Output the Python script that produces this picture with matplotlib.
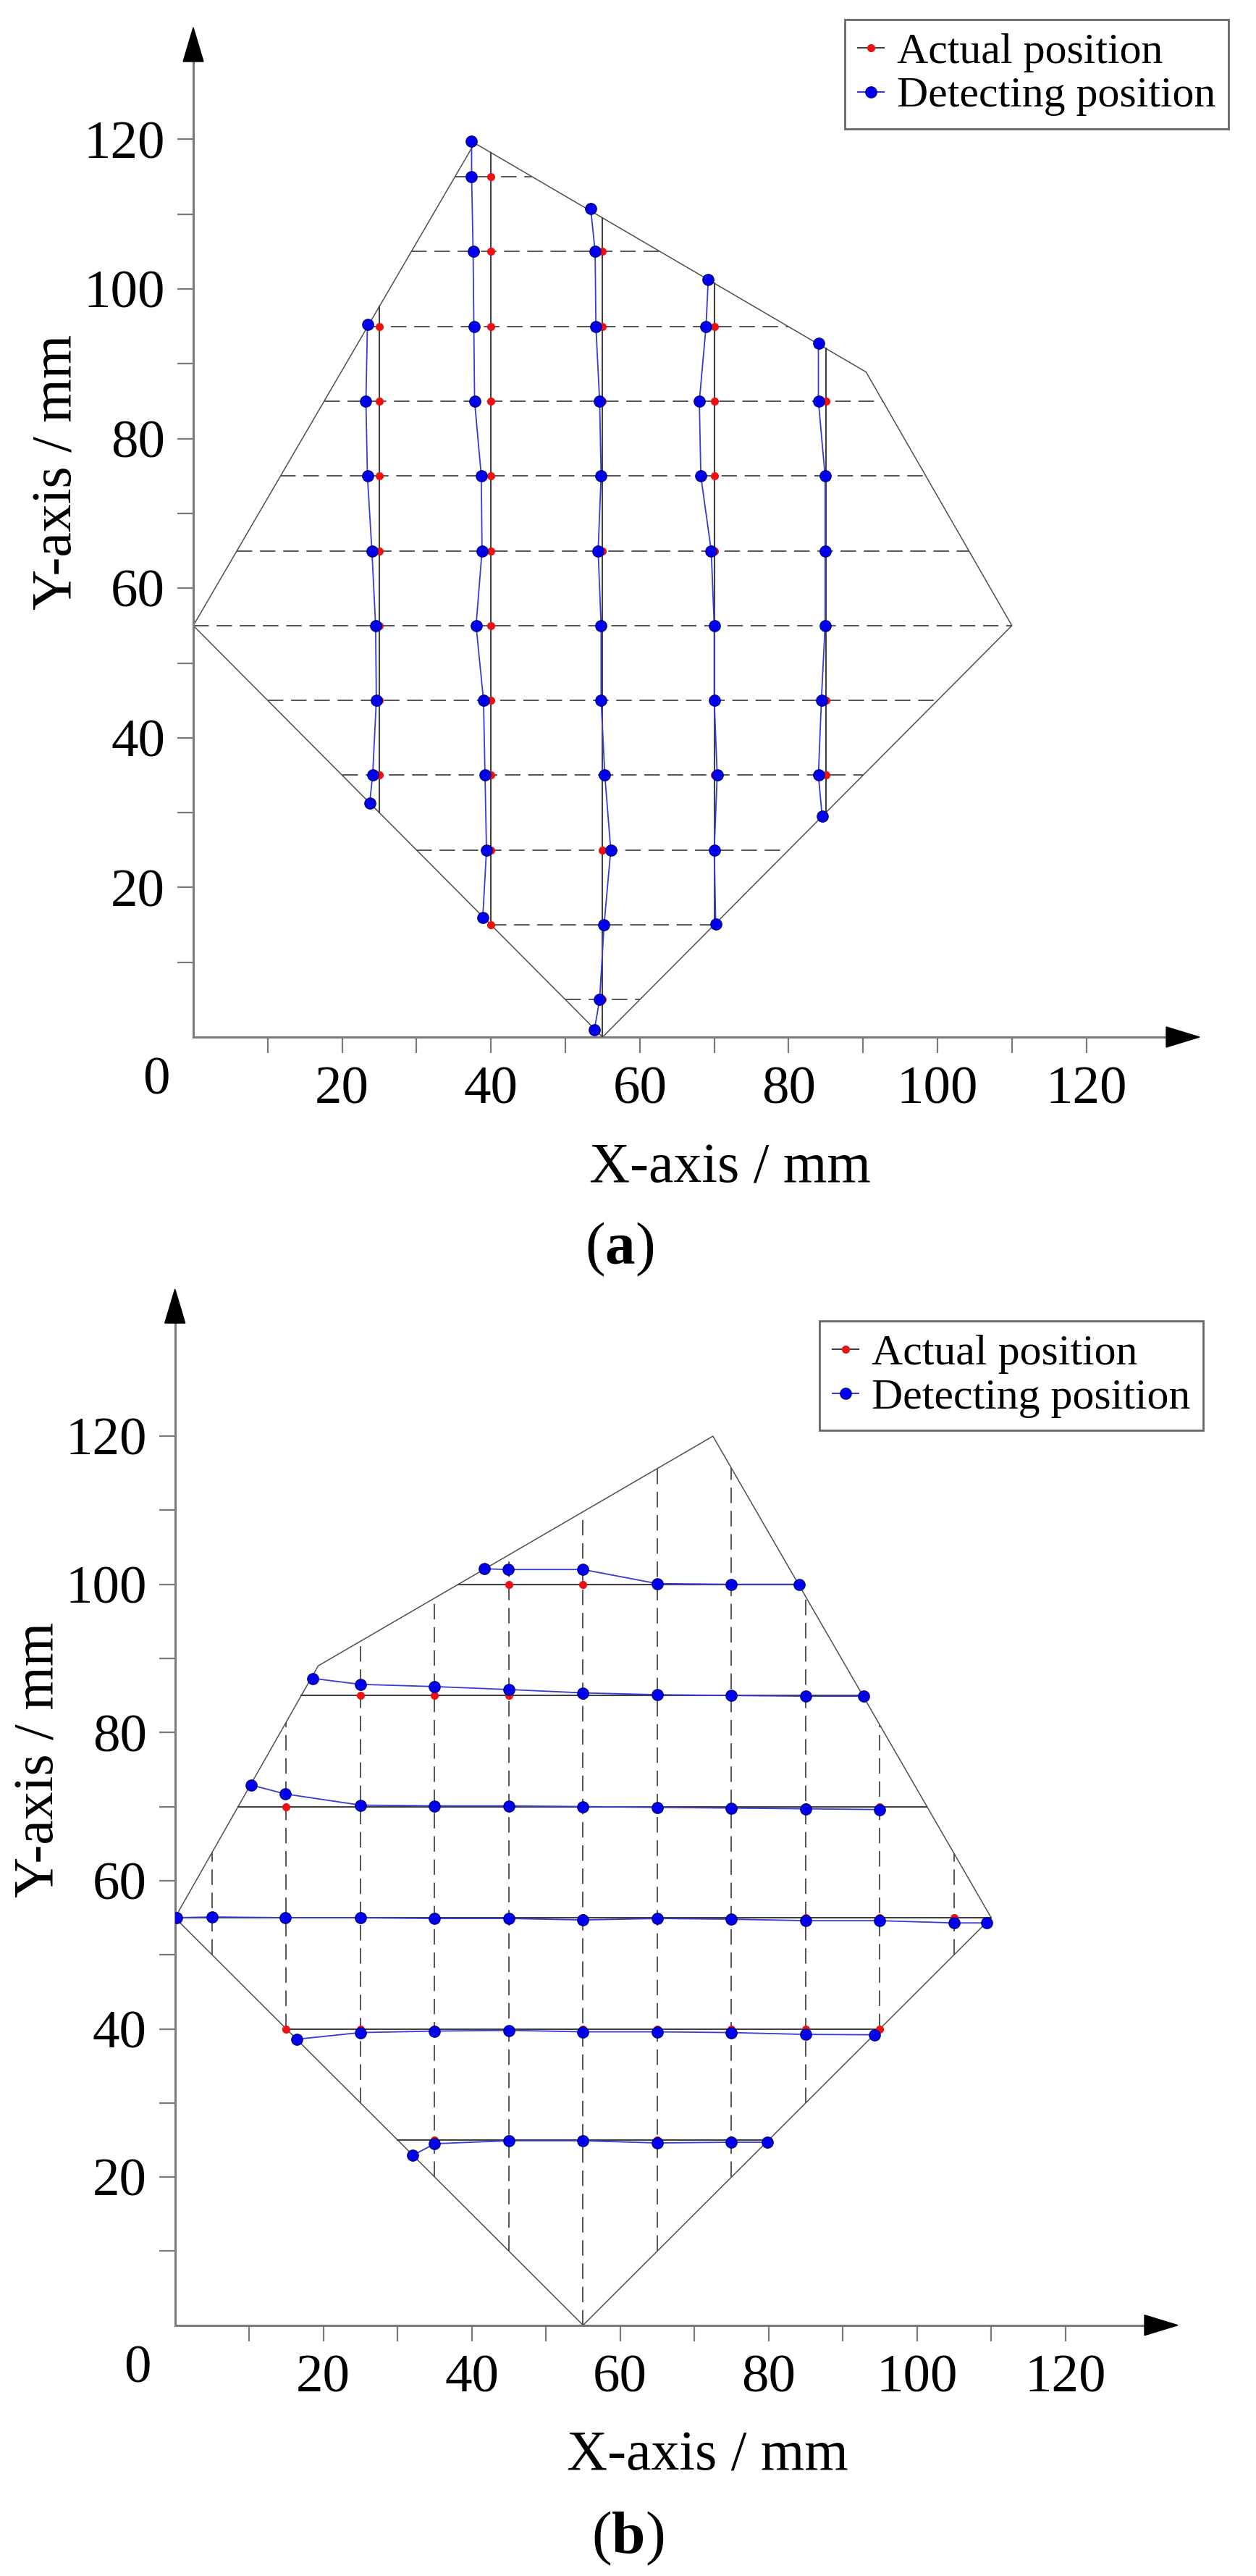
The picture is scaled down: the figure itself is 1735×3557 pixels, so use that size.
import numpy as np
import matplotlib
matplotlib.use("Agg")
import matplotlib.pyplot as plt
from matplotlib.lines import Line2D

plt.rcParams['font.family'] = ['Liberation Serif', 'DejaVu Serif']
plt.rcParams['mathtext.fontset'] = 'custom'
plt.rcParams['mathtext.rm'] = 'Liberation Serif'
plt.rcParams['mathtext.bf'] = 'Liberation Serif:bold'

W, H = 1735, 3557

# ---------------- panel (a) data ----------------
a_poly = [(0, 55), (37.8, 119.5), (90.4, 88.9), (110, 55), (55, 0)]
a_guides = [5, 15, 25, 35, 45, 55, 65, 75, 85, 95, 105, 115]
a_cols = [25, 40, 55, 70, 85]
a_act = [
    [35, 45, 55, 65, 75, 85, 95],
    [15, 25, 35, 45, 55, 65, 75, 85, 95, 105, 115],
    [5, 15, 25, 35, 45, 55, 65, 75, 85, 95, 105],
    [15, 25, 35, 45, 55, 65, 75, 85, 95],
    [35, 45, 55, 65, 75, 85],
]
a_det_x = [
    [23.4, 23.2, 23.4, 24.0, 24.5, 24.6, 24.1, 23.7],
    [37.4, 37.4, 37.6, 37.7, 37.8, 38.7, 38.8, 38.0, 39.0, 39.2, 39.4, 38.9],
    [53.4, 54.0, 54.1, 54.6, 54.8, 54.4, 54.8, 54.8, 55.3, 56.1, 55.2, 54.6, 53.9],
    [69.2, 68.9, 68.0, 68.2, 69.6, 70.0, 70.0, 70.4, 70.0, 70.2],
    [84.0, 84.0, 84.9, 84.9, 84.9, 84.4, 84.0, 84.5],
]
a_det_y = [
    [95.3, 85, 75, 65, 55, 45, 35, 31.3],
    [119.7, 115, 105, 95, 85, 75, 65, 55, 45, 35, 25, 16.0],
    [110.7, 105, 95, 85, 75, 65, 55, 45, 35, 25, 15, 5, 1.0],
    [101.3, 95, 85, 75, 65, 55, 45, 35, 25, 15.1],
    [92.7, 85, 75, 65, 55, 45, 35, 29.5],
]

# ---------------- panel (b) data ----------------
b_poly = [(0, 55), (19.3, 89), (72.5, 120), (110, 55), (55, 0)]
b_guides = [5, 15, 25, 35, 45, 55, 65, 75, 85, 95, 105]
b_rows = [100, 85, 70, 55, 40, 25]
b_act = [
    [45, 55, 65, 75],
    [25, 35, 45, 55, 65, 75, 85],
    [15, 25, 35, 45, 55, 65, 75, 85, 95],
    [5, 15, 25, 35, 45, 55, 65, 75, 85, 95, 105],
    [15, 25, 35, 45, 55, 65, 75, 85, 95],
    [35, 45, 55, 65, 75],
]
b_det_x = [
    [41.7, 44.9, 55.0, 65.0, 75.0, 84.1],
    [18.6, 25.0, 35.0, 45.0, 55.0, 65.0, 75.0, 85.0, 92.8],
    [10.3, 14.9, 25.0, 35.0, 45.0, 55.0, 65.0, 75.0, 85.0, 95.0],
    [0.2, 5.0, 14.9, 25.0, 35.0, 45.0, 55.0, 65.0, 75.0, 85.0, 95.0, 105.0, 109.4],
    [16.4, 25.0, 35.0, 45.0, 55.0, 65.0, 75.0, 85.0, 94.3],
    [32.0, 35.0, 45.0, 55.0, 65.0, 75.0, 79.8],
]
b_det_y = [
    [102.1, 102.0, 102.0, 100.1, 100.0, 100.0],
    [87.3, 86.5, 86.2, 85.8, 85.35, 85.1, 85.0, 84.9, 84.9],
    [72.9, 71.7, 70.2, 70.1, 70.1, 70.0, 69.9, 69.8, 69.7, 69.6],
    [55.0, 55.1, 55.0, 55.0, 54.9, 54.9, 54.7, 54.9, 54.8, 54.6, 54.6, 54.3, 54.3],
    [38.6, 39.5, 39.7, 39.8, 39.6, 39.6, 39.5, 39.25, 39.2],
    [22.9, 24.5, 24.9, 24.9, 24.6, 24.7, 24.7],
]

ticks = [10, 20, 30, 40, 50, 60, 70, 80, 90, 100, 110, 120]
tick_labels = ['', '20', '', '40', '', '60', '', '80', '', '100', '', '120']
legend_labels = ['Actual position', 'Detecting position']

AXIS_C = '#7a7a7a'
POLY_C = '#505050'
DASH_C = '#262626'
ACT_C = '#404040'
RED = '#ee1111'
BLUE = '#0000ee'
BLUE_LINE = '#3a3ad0'


def span(poly, c, axis):
    """where the line (coord[axis] == c) crosses the polygon, min/max of the other coord"""
    pts = poly + [poly[0]]
    hits = []
    for p, q in zip(pts[:-1], pts[1:]):
        a, b = p[axis], q[axis]
        if a != b and (a - c) * (b - c) <= 0:
            t = (c - a) / (b - a)
            hits.append(p[1 - axis] + t * (q[1 - axis] - p[1 - axis]))
    return min(hits), max(hits)


def setup_axes(ox, oy, sx, sy, xtip, ytip):
    # ox, oy: origin in pixels; sx, sy: pixels per mm; xtip/ytip: arrow tips in pixels
    w = xtip - ox
    h = oy - ytip
    ax = fig.add_axes([ox / W, 1 - oy / H, w / W, h / H])
    xmax, ymax = w / sx, h / sy
    ax.set_xlim(0, xmax)
    ax.set_ylim(0, ymax)
    ax.patch.set_alpha(0)
    for s in ['top', 'right']:
        ax.spines[s].set_visible(False)
    hx, hy = 46 / sx, 47 / sy
    ax.spines['bottom'].set_bounds(0, xmax - hx)
    ax.spines['left'].set_bounds(0, ymax - hy)
    for s in ['bottom', 'left']:
        ax.spines[s].set_color(AXIS_C)
        ax.spines[s].set_linewidth(2.2)
    # arrow heads
    ax.fill([xmax - hx, xmax, xmax - hx], [-14 / sy, 0, 14 / sy], color='black', clip_on=False, zorder=5)
    ax.fill([-14 / sx, 0, 14 / sx], [ymax - hy, ymax, ymax - hy], color='black', clip_on=False, zorder=5)
    ax.set_xticks(ticks)
    ax.set_xticklabels(tick_labels)
    ax.set_yticks(ticks)
    ax.set_yticklabels(tick_labels)
    ax.tick_params(axis='both', direction='out', length=16, width=1.6, color=AXIS_C, labelsize=54)
    ax.tick_params(axis='x', pad=13)
    ax.tick_params(axis='y', pad=12)
    ax.annotate('0', xy=(0, 0), xytext=(-37, -44), textcoords='offset points',
                ha='center', va='center', fontsize=54)
    return ax


def add_legend(ax, left, top):
    h = [Line2D([], [], color=ACT_C, lw=1.5, marker='o', ms=7, mfc=RED, mec=RED),
         Line2D([], [], color=BLUE_LINE, lw=1.5, marker='o', ms=11, mfc=BLUE, mec='#000088')]
    leg = ax.legend(h, legend_labels, loc='upper left', bbox_to_anchor=(left / W, 1 - top / H),
                    bbox_transform=fig.transFigure, fontsize=43, frameon=True, fancybox=False,
                    handlelength=0.6, handletextpad=0.3, borderpad=0.3, labelspacing=0.1,
                    borderaxespad=0)
    leg.get_frame().set_edgecolor('#666666')
    leg.get_frame().set_linewidth(2)
    leg.get_frame().set_alpha(1)


def draw_detected(ax, det_x, det_y):
    for xs, ys in zip(det_x, det_y):
        ax.plot(xs, ys, color=BLUE_LINE, lw=1.3, zorder=5)
        ax.plot(xs, ys, ls='none', marker='o', ms=11, mfc=BLUE, mec='#000088', mew=1, zorder=6)


fig = plt.figure(figsize=(W / 100, H / 100), dpi=100)

# ---------------- (a) ----------------
ax = setup_axes(267, 1432, 10.28, 10.33, 1657, 38)
px, py = zip(*(a_poly + [a_poly[0]]))
ax.plot(px, py, color=POLY_C, lw=1.1, zorder=2)
for g in a_guides:
    x0, x1 = span(a_poly, g, 1)
    ax.plot([x0, x1], [g, g], color=DASH_C, lw=1.1, dashes=(14, 7), zorder=1)
for c, ys in zip(a_cols, a_act):
    y0, y1 = span(a_poly, c, 0)
    ax.plot([c, c], [y0, y1], color=ACT_C, lw=1.5, zorder=3)
    ax.plot([c] * len(ys), ys, ls='none', marker='o', ms=7, mfc=RED, mec=RED, zorder=4)
draw_detected(ax, a_det_x, a_det_y)
add_legend(ax, 1167, 27)
fig.text(80 / W, 1 - 652 / H, 'Y-axis / mm', rotation=90, ha='center', va='center', fontsize=56)
fig.text(1008 / W, 1 - 1632 / H, 'X-axis / mm', ha='center', va='baseline', fontsize=56)
fig.text(856 / W, 1 - 1745 / H, r'($\mathbf{a}$)', ha='center', va='baseline', fontsize=60)

# ---------------- (b) ----------------
ax = setup_axes(241.7, 3210.7, 10.25, 10.23, 1627, 1780)
px, py = zip(*(b_poly + [b_poly[0]]))
ax.plot(px, py, color=POLY_C, lw=1.1, zorder=2)
for g in b_guides:
    y0, y1 = span(b_poly, g, 0)
    ax.plot([g, g], [y0, y1], color=DASH_C, lw=1.1, dashes=(14, 7), zorder=1)
for r, xs in zip(b_rows, b_act):
    x0, x1 = span(b_poly, r, 1)
    ax.plot([x0, x1], [r, r], color=ACT_C, lw=1.5, zorder=3)
    ax.plot(xs, [r] * len(xs), ls='none', marker='o', ms=7, mfc=RED, mec=RED, zorder=4)
draw_detected(ax, b_det_x, b_det_y)
add_legend(ax, 1132, 1824)
fig.text(55 / W, 1 - 2430 / H, 'Y-axis / mm', rotation=90, ha='center', va='center', fontsize=56)
fig.text(977 / W, 1 - 3411 / H, 'X-axis / mm', ha='center', va='baseline', fontsize=56)
fig.text(867 / W, 1 - 3525 / H, r'($\mathbf{b}$)', ha='center', va='baseline', fontsize=60)

fig.savefig('out.png', dpi=100)
